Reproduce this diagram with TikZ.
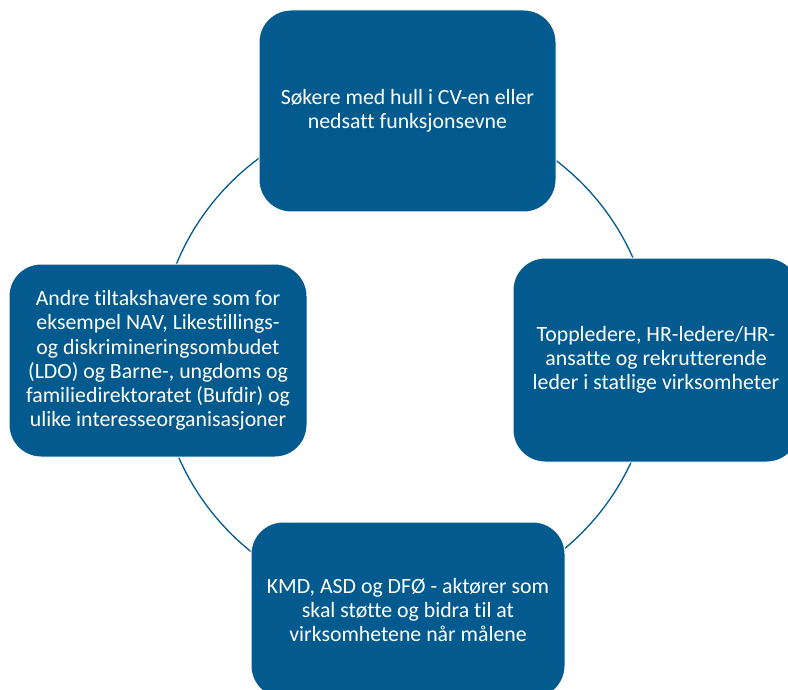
\documentclass[tikz,border=0pt]{standalone}
\usepackage{fontspec}
\setmainfont[Ligatures=NoCommon]{Carlito}
\definecolor{boxblue}{RGB}{2,90,142}
\begin{document}
\begin{tikzpicture}[x=1pt,y=-1pt,
  box/.style={fill=boxblue, draw=white, line width=1pt, rounded corners=32pt,
    text=white, align=center, font=\fontsize{21.8}{24.2}\selectfont, inner sep=0pt},
  ring/.style={draw=boxblue, line width=1.3pt}]
\clip (0,0) rectangle (788,690);
\coordinate (c) at (406,358);
\draw[ring] (c) circle[radius=248];
\node[box, minimum width=297pt, minimum height=202pt] (top) at (407.5,111)
  {Søkere med hull i CV-en eller\\nedsatt funksjonsevne};
\node[box, minimum width=286pt, minimum height=204pt] (right) at (656,360)
  {Toppledere, HR-ledere/HR-\\ansatte og rekrutterende\\leder i statlige virksomheter};
\node[box, minimum width=298pt, minimum height=193pt] (left) at (158,360.5)
  {Andre tiltakshavere som for\\eksempel NAV, Likestillings-\\og diskrimineringsombudet\\(LDO) og Barne-, ungdoms og\\familiedirektoratet (Bufdir) og\\ulike interesseorganisasjoner};
\node[box, minimum width=314pt, minimum height=176pt] (bottom) at (408,610)
  {KMD, ASD og DFØ - aktører som\\skal støtte og bidra til at\\virksomhetene når målene};
\end{tikzpicture}
\end{document}
